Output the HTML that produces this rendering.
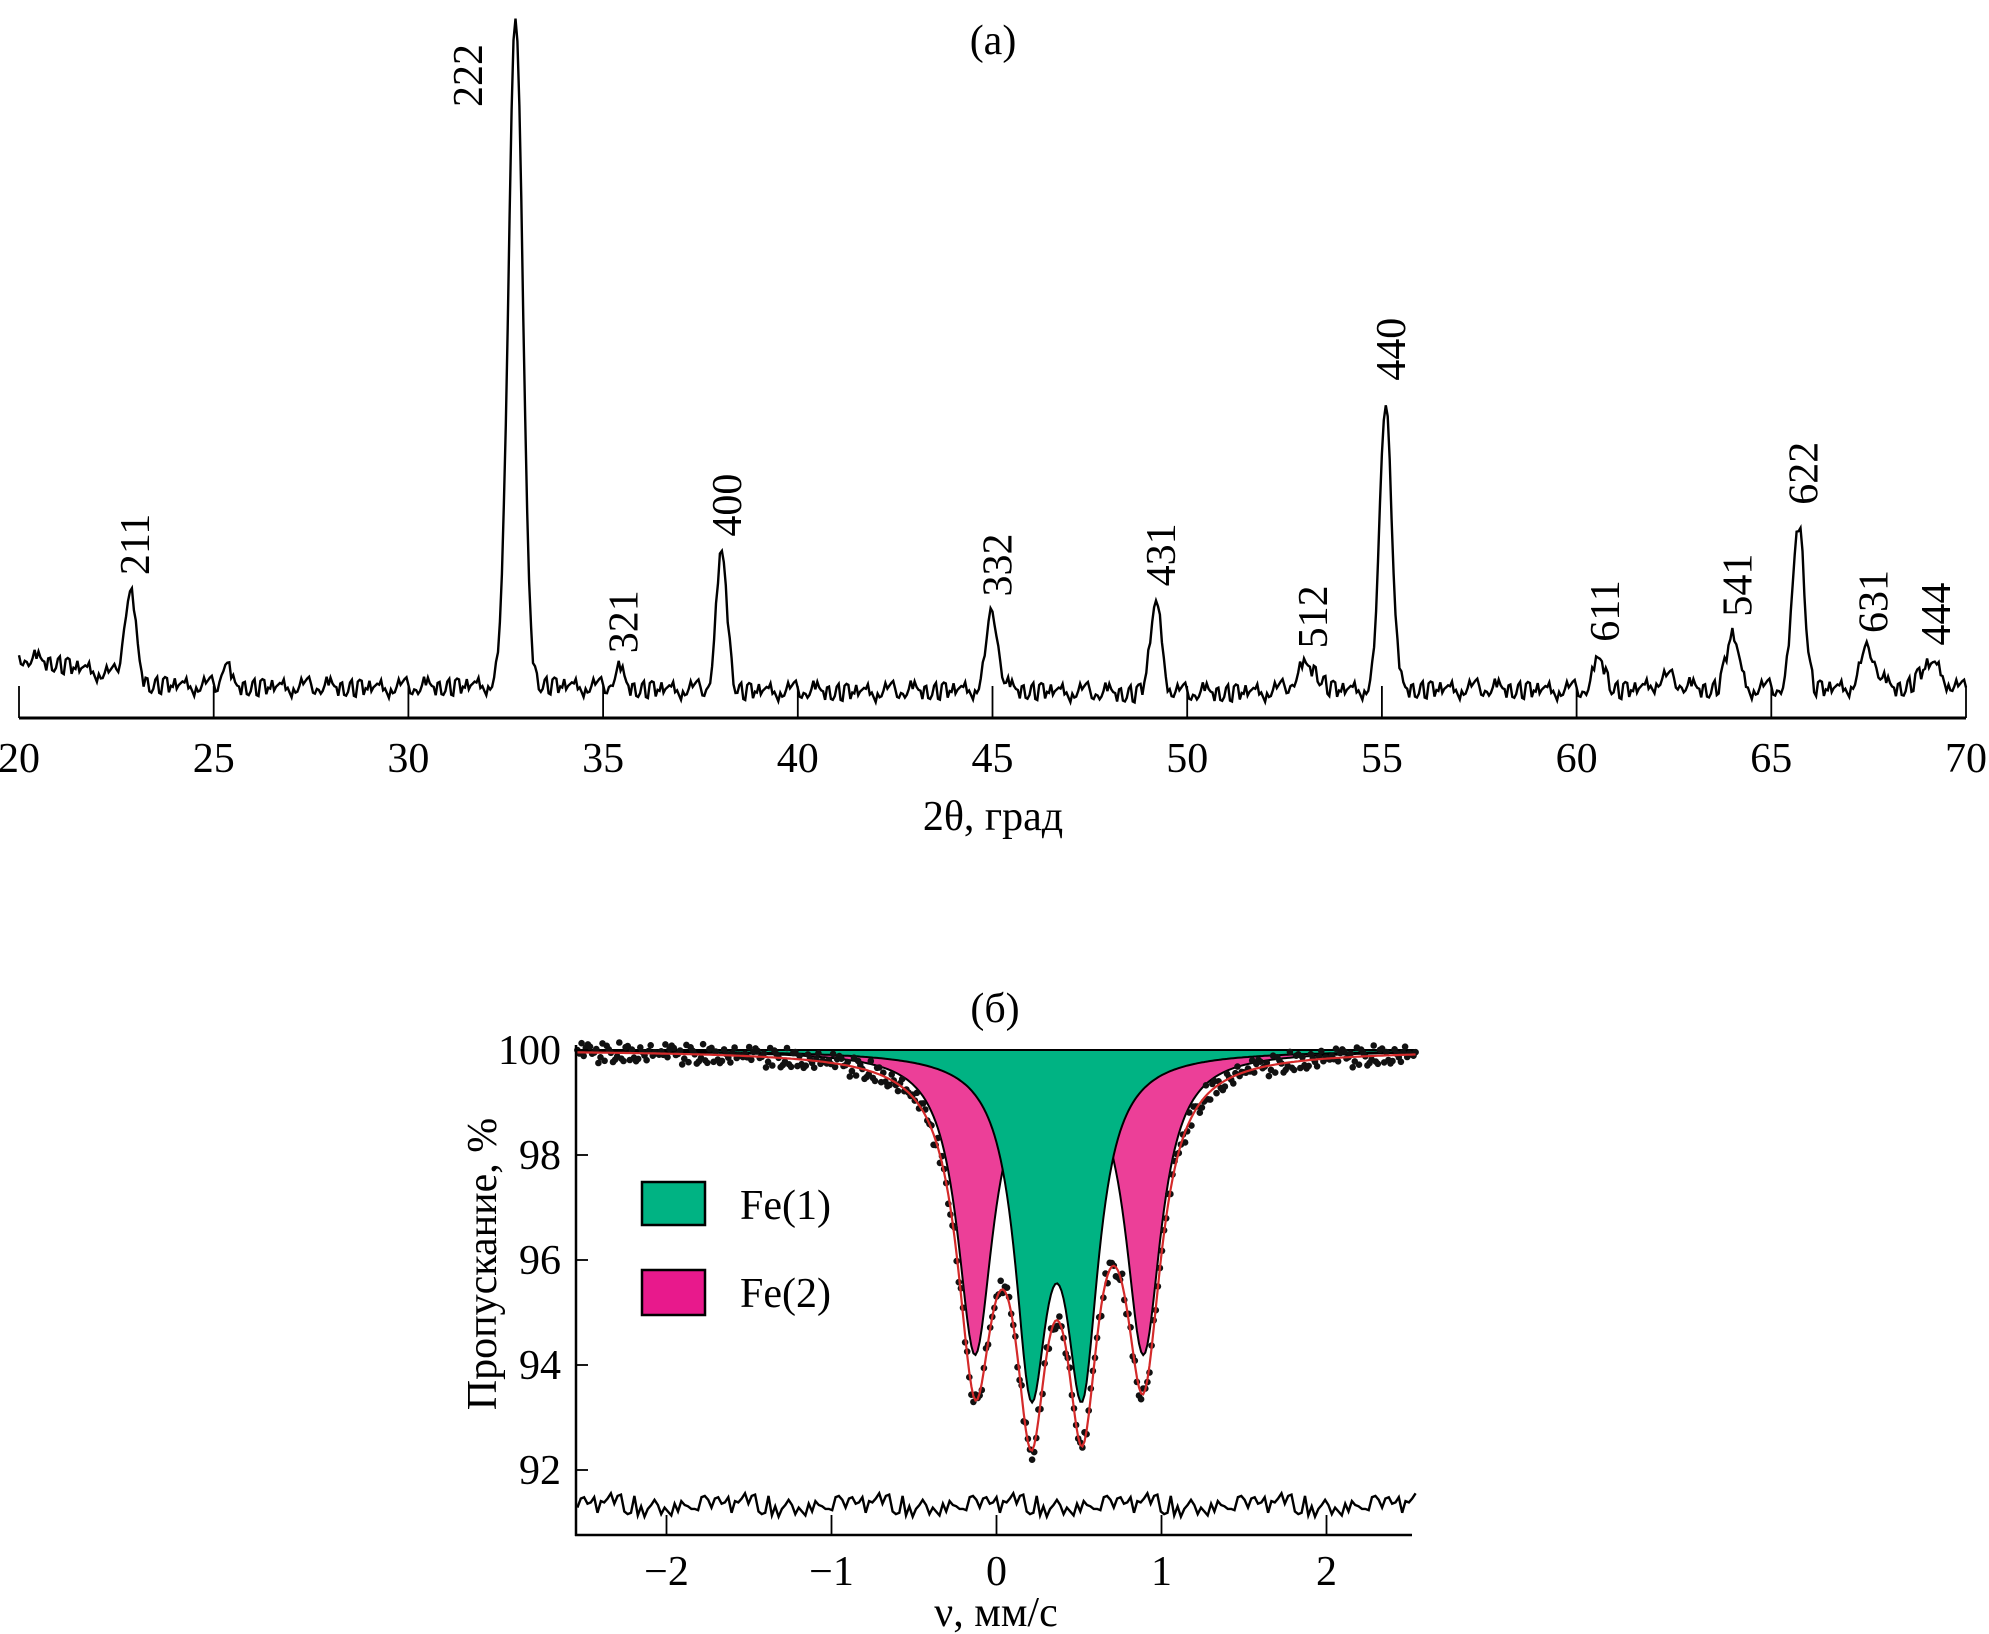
<!DOCTYPE html>
<html><head><meta charset="utf-8"><style>
body{margin:0;background:#fff}
svg{display:block;font-family:"Liberation Serif",serif}
</style></head><body>
<svg id="fig" width="1989" height="1634" viewBox="0 0 1989 1634" xmlns="http://www.w3.org/2000/svg">
<g id="xrd"></g>
<g id="moss"></g>
</svg>
<script>
// ---------- XRD data ----------
const xrdPeakPos = [22.85, 25.3, 32.75, 35.4, 38.05, 45.0, 49.2, 53.1, 55.1, 60.6, 62.3, 64.0, 65.7, 67.5, 69.1];
const xrdPeakHeight = [132, 38, 1000, 25, 202, 111, 132, 36, 432, 45, 15, 81, 247, 55, 38];
const xrdPeakWidth = [0.15, 0.09, 0.18, 0.13, 0.14, 0.15, 0.15, 0.28, 0.15, 0.15, 0.3, 0.16, 0.15, 0.2, 0.28];
const xrdLabels = ["211", null, "222", "321", "400", "332", "431", "512", "440", "611", null, "541", "622", "631", "444"];
const xrdBaseX = [20, 21, 22, 23, 25, 30, 33, 35, 38, 42, 45, 48, 50, 55, 58, 60, 62, 65, 68, 70];
const xrdBaseY = [40, 32, 20, 2, -2, -4, 2, -4, -8, -10, -6, -12, -12, -6, -6, -8, -6, -6, -4, -8];
const xrdTicks = [20, 25, 30, 35, 40, 45, 50, 55, 60, 65, 70];
const noiseArr = [3,-5,8,-2,-9,4,11,-6,1,-3,7,-10,5,2,-7,9,-1,-4,6,-8,10,-2,3,-6,0,8,-9,4,-3,6,-11,2,7,-5,1,-7,9,-2,4,-8,5,0,-4,11,-6,3,-1,8,-9,2];

const NS = "http://www.w3.org/2000/svg";
function mk(tag, attrs, parent, txt){const e=document.createElementNS(NS,tag);for(const k in attrs)e.setAttribute(k,attrs[k]);if(txt!==undefined)e.textContent=txt;parent.appendChild(e);return e;}
const FS = 42;

const gx = document.getElementById('xrd');
const ax = t => 19 + (t - 20) * (1966 - 19) / 50;
const ay = I => 685 - I * 0.672;
function baseAt(t){for(let i=0;i<xrdBaseX.length-1;i++){if(t<=xrdBaseX[i+1]){const f=(t-xrdBaseX[i])/(xrdBaseX[i+1]-xrdBaseX[i]);return xrdBaseY[i]+f*(xrdBaseY[i+1]-xrdBaseY[i]);}}return xrdBaseY[xrdBaseY.length-1];}
let d = "";
for (let i = 0; i <= 1000; i++) {
  const t = 20 + i * 0.05;
  let I = baseAt(t) + noiseArr[(i*7)%noiseArr.length]*1.4;
  for (let k = 0; k < xrdPeakPos.length; k++) {
    const z = (t - xrdPeakPos[k]) / xrdPeakWidth[k];
    I += xrdPeakHeight[k] * Math.exp(-0.5 * z * z);
  }
  d += (i ? "L" : "M") + ax(t).toFixed(1) + "," + ay(I).toFixed(1);
}
let el = mk('path', {d: d, fill: 'none', stroke: '#000', 'stroke-width': 2.4}, gx);



el = mk('line', {x1: 19, y1: 718, x2: 1966, y2: 718, stroke: '#000', 'stroke-width': 3}, gx);


xrdTicks.forEach(t => {
  const x = ax(t);
  const tk = mk('line', {x1: x, y1: 686, x2: x, y2: 718, stroke: '#000', 'stroke-width': 1.8}, gx);
  
  
  const lb = mk('text', {x: x, y: 772, 'font-size': FS, 'text-anchor': 'middle'}, gx, String(t));
  
  
});
el = mk('text', {x: 993, y: 830, 'font-size': FS, 'text-anchor': 'middle'}, gx, "2θ, град");


el = mk('text', {x: 993, y: 54, 'font-size': FS, 'text-anchor': 'middle'}, gx, "(a)");



xrdLabels.forEach((lab, k) => {
  if (!lab) return;
  let x = ax(xrdPeakPos[k]) + 5, yb = ay(xrdPeakHeight[k] + baseAt(xrdPeakPos[k])) - 18;
  if (lab === "222") { x = 468; yb = 107; }
  const t = mk('text', {x: 0, y: 0, 'font-size': FS, 'text-anchor': 'start', transform: `translate(${x + 14},${yb}) rotate(-90)`}, gx, lab);
  
  
});

// ---------- Mössbauer data ----------
const fe1Pos = [0.21, 0.52];
const fe1Depth = [5.93, 5.93];
const fe1Gamma = [0.12, 0.12];
const fe2Pos = [-0.13, 0.89];
const fe2Depth = [5.72, 5.72];
const fe2Gamma = [0.13, 0.13];
const mossYTicks = [100, 98, 96, 94, 92];
const mossXTicks = [-2, -1, 0, 1, 2];
const residualNoise = [2,-4,6,-1,-7,3,8,-5,0,-3,5,-8,4,1,-6,7,-2,-3,5,-6,9,-1,2,-5,0,7,-7,3,-2,5,-9,1,6,-4,0,-6,8,-1,3,-7];

const gm = document.getElementById('moss');
const mx = v => 996.5 + 165 * v;
const my = T => 1050 + (100 - T) * 52.5;
const lor = (v, p, dep, g) => dep * g * g / ((v - p) * (v - p) + g * g);
const fe1 = v => fe1Pos.reduce((s, p, i) => s + lor(v, p, fe1Depth[i], fe1Gamma[i]), 0);
const fe2 = v => fe2Pos.reduce((s, p, i) => s + lor(v, p, fe2Depth[i], fe2Gamma[i]), 0);
const vmin = -2.54, vmax = 2.54;
function areaPath(f){let s="M"+mx(vmin)+","+my(100);for(let i=0;i<=400;i++){const v=vmin+(vmax-vmin)*i/400;s+="L"+mx(v).toFixed(1)+","+my(100-f(v)).toFixed(1);}return s+"L"+mx(vmax)+","+my(100)+"Z";}
function linePath(f){let s="";for(let i=0;i<=400;i++){const v=vmin+(vmax-vmin)*i/400;s+=(i?"L":"M")+mx(v).toFixed(1)+","+my(100-f(v)).toFixed(1);}return s;}

el = mk('path', {d: areaPath(fe2), fill: '#ec3f98', stroke: '#000', 'stroke-width': 2}, gm);


el = mk('path', {d: areaPath(fe1), fill: '#00b383', stroke: '#000', 'stroke-width': 2}, gm);


const total = v => fe1(v) + fe2(v);
for (let i = 0; i <= 400; i++) {
  const v = vmin + (vmax - vmin) * i / 400;
  const T = 100 - total(v) + residualNoise[(i*3) % residualNoise.length] * 0.022;
  const c = mk('circle', {cx: mx(v).toFixed(1), cy: my(T).toFixed(1), r: 3.3, fill: '#111'}, gm);
  
  
}
el = mk('path', {d: linePath(total), fill: 'none', stroke: '#d42a2a', 'stroke-width': 2.2}, gm);


let rd = "";
for (let i = 0; i <= 250; i++) {
  const v = vmin + (vmax - vmin) * i / 250;
  rd += (i ? "L" : "M") + mx(v).toFixed(1) + "," + (1505 + residualNoise[(i*7) % residualNoise.length] * 1.3).toFixed(1);
}
el = mk('path', {d: rd, fill: 'none', stroke: '#000', 'stroke-width': 2.4}, gm);


el = mk('line', {x1: 576, y1: 1045, x2: 576, y2: 1536, stroke: '#000', 'stroke-width': 2.5}, gm);


el = mk('line', {x1: 575, y1: 1535, x2: 1412, y2: 1535, stroke: '#000', 'stroke-width': 2.5}, gm);


mossXTicks.forEach(v => {
  const x = mx(v);
  const tk = mk('line', {x1: x, y1: 1515, x2: x, y2: 1535, stroke: '#000', 'stroke-width': 1.8}, gm);
  
  
  const lb = mk('text', {x: x, y: 1585, 'font-size': FS, 'text-anchor': 'middle'}, gm, v < 0 ? "\u2212" + Math.abs(v) : String(v));
  
  
});
mossYTicks.forEach(T => {
  const y = my(T);
  const tk = mk('line', {x1: 576, y1: y, x2: 588, y2: y, stroke: '#000', 'stroke-width': 1.8}, gm);
  
  
  const lb = mk('text', {x: 561, y: y + 14, 'font-size': FS, 'text-anchor': 'end'}, gm, String(T));
  
  
});
el = mk('text', {x: 996, y: 1626, 'font-size': FS, 'text-anchor': 'middle'}, gm, "ν, мм/с");


el = mk('text', {x: 0, y: 0, 'font-size': FS, 'text-anchor': 'middle', transform: 'translate(496,1264) rotate(-90)'}, gm, "Пропускание, %");


el = mk('text', {x: 995, y: 1022, 'font-size': FS, 'text-anchor': 'middle'}, gm, "(б)");


el = mk('rect', {x: 642, y: 1182, width: 63, height: 43, fill: '#00b383', stroke: '#000', 'stroke-width': 2.5}, gm);


el = mk('text', {x: 740, y: 1219, 'font-size': FS}, gm, "Fe(1)");


el = mk('rect', {x: 642, y: 1270, width: 63, height: 45, fill: '#e8198c', stroke: '#000', 'stroke-width': 2.5}, gm);


el = mk('text', {x: 740, y: 1307, 'font-size': FS}, gm, "Fe(2)");


</script>
</body></html>
